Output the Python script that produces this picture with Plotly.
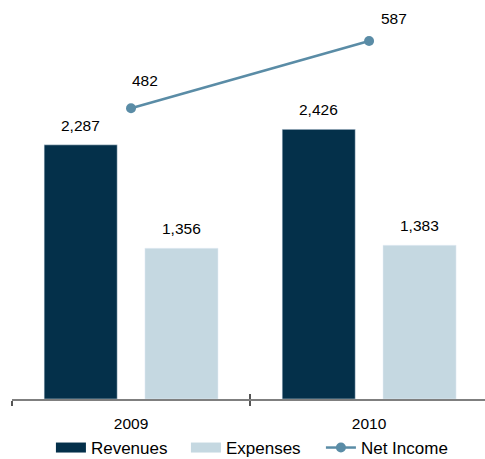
import plotly.graph_objects as go

# Annual figures
years = ["2009", "2010"]
revenues = [2287, 2426]
expenses = [1356, 1383]
net_income = [482, 587]

FONT = "Liberation Sans, Arial, sans-serif"
C_REV = "#04304A"
C_EXP = "#C5D8E1"
C_NET = "#5A8CA6"

BAR_W = 0.307
REV_OFF = -0.365
EXP_OFF = 0.0585
LABEL_SIZE = 15.5

fig = go.Figure()
fig.add_trace(go.Bar(x=years, y=revenues, name="Revenues", marker_color=C_REV,
                     width=BAR_W, offset=REV_OFF, hoverinfo="skip",
                     showlegend=False))
fig.add_trace(go.Bar(x=years, y=expenses, name="Expenses", marker_color=C_EXP,
                     width=BAR_W, offset=EXP_OFF, hoverinfo="skip",
                     showlegend=False))

# legend keys drawn as wide rectangular swatches
for name, color in (("Revenues", C_REV), ("Expenses", C_EXP)):
    fig.add_trace(go.Scatter(x=[years[0]], y=[None], name=name, mode="lines",
                             line=dict(color=color, width=13),
                             hoverinfo="skip"))

fig.add_trace(go.Scatter(x=years, y=net_income, name="Net Income", yaxis="y2",
                         mode="lines+markers",
                         line=dict(color=C_NET, width=2.5),
                         marker=dict(color=C_NET, size=10)))

annotations = []
for i, (r, e) in enumerate(zip(revenues, expenses)):
    for v, off in ((r, REV_OFF), (e, EXP_OFF)):
        annotations.append(dict(x=i + off + BAR_W / 2, y=v, xref="x", yref="y",
                                text=f"{v:,}", showarrow=False, yanchor="bottom",
                                yshift=9, font=dict(size=LABEL_SIZE, color="#000000")))
label_shift = [(14, 28), (25, 23)]
for i, v in enumerate(net_income):
    dx, dy = label_shift[i]
    annotations.append(dict(x=i, y=v, xref="x", yref="y2", text=f"{v:,}",
                            showarrow=False, xshift=dx, yshift=dy,
                            font=dict(size=LABEL_SIZE, color="#000000")))

fig.update_layout(
    width=485, height=459,
    margin=dict(l=12, r=0, t=0, b=60, autoexpand=False),
    paper_bgcolor="white", plot_bgcolor="white",
    font=dict(family=FONT, size=LABEL_SIZE, color="#000000"),
    barmode="group",
    showlegend=True,
    legend=dict(orientation="h", xref="container", x=0.105, xanchor="left",
                yref="container", y=0.024, yanchor="middle",
                font=dict(size=17), itemwidth=30, traceorder="normal",
                entrywidth=90, entrywidthmode="pixels"),
    xaxis=dict(type="category", range=[-0.5, 1.487], tickson="boundaries",
               ticks="outside", ticklen=5, tickwidth=1.5, tickcolor="#555555",
               ticklabelstandoff=10,
               showline=True, linecolor="#7F7F7F", linewidth=1.5,
               showgrid=False, zeroline=False, fixedrange=True,
               automargin=False),
    xaxis2=dict(type="category", range=[-0.5, 1.487], overlaying="x",
                tickson="boundaries", ticks="inside", ticklen=5,
                tickwidth=1.5, tickcolor="#555555", showticklabels=False,
                showline=False, showgrid=False, zeroline=False),
    yaxis=dict(range=[0, 3590], visible=False, showgrid=False, zeroline=False),
    yaxis2=dict(range=[28.5, 651], overlaying="y", visible=False,
                showgrid=False, zeroline=False),
    annotations=annotations,
)

# empty trace that lays out the inward tick marks on the second x axis
fig.add_trace(go.Scatter(x=years, y=[None, None], xaxis="x2", showlegend=False,
                         hoverinfo="skip"))

fig.write_html("out.html")
